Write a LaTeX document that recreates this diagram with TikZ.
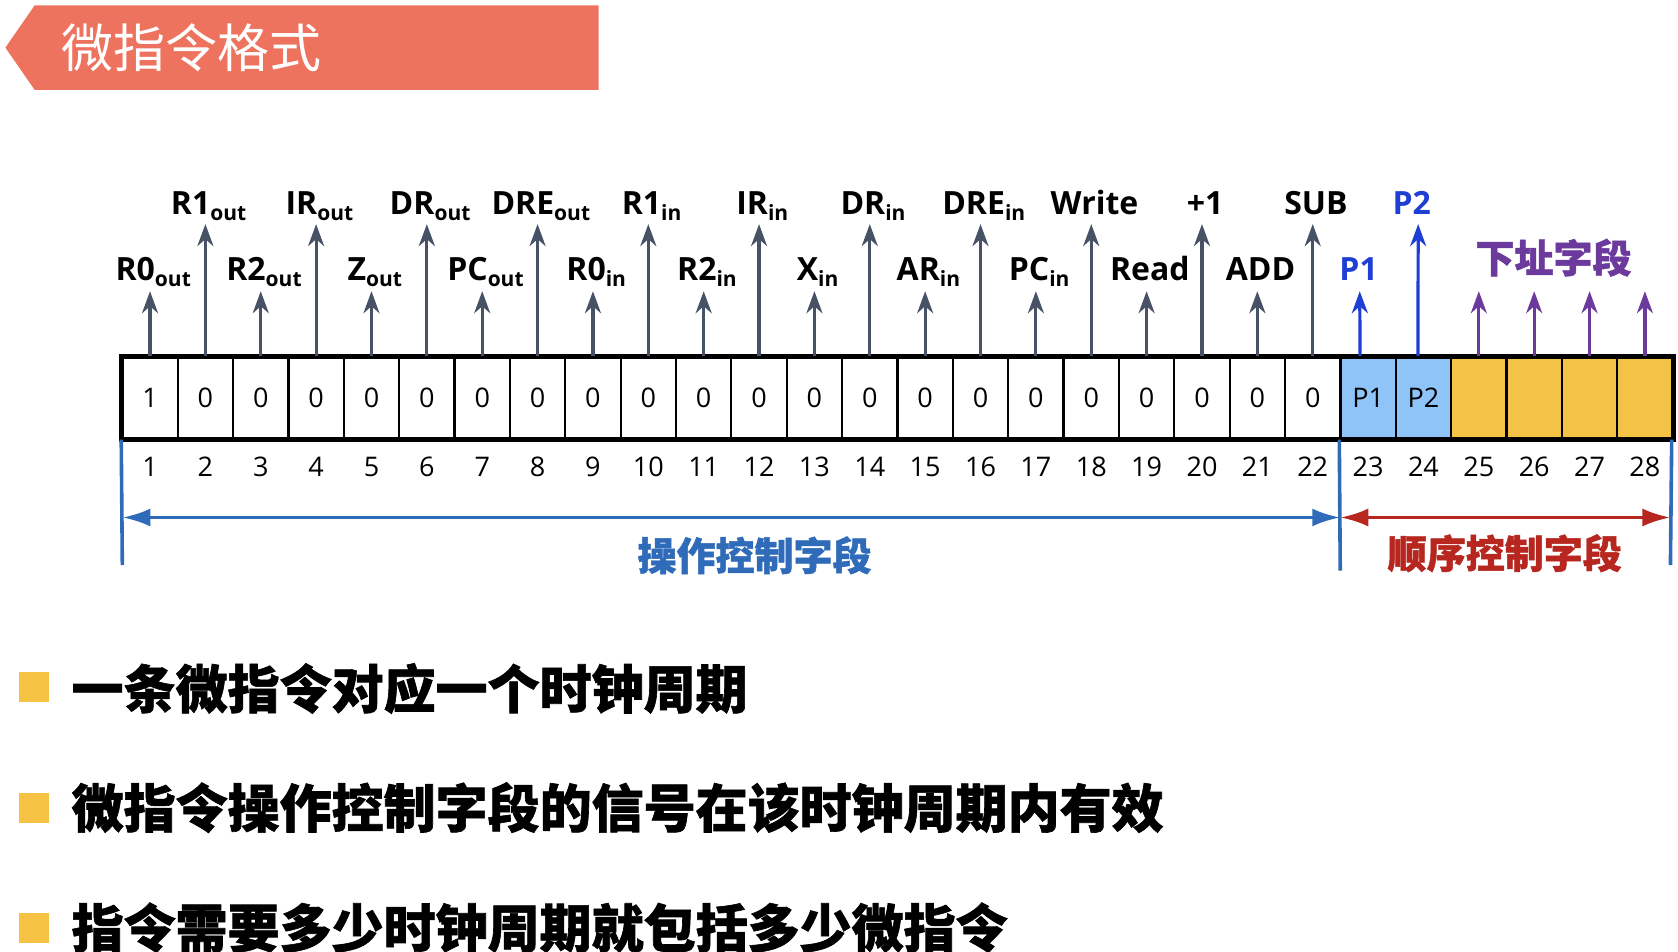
\documentclass[tikz,border=0pt]{standalone}
\usepackage{fontspec}
\setmainfont{Open Sans}
\newfontfamily\cjk{Noto Sans CJK SC}[BoldFeatures={FakeBold=1.2}]
\usetikzlibrary{arrows.meta}
\definecolor{slate}{HTML}{475266}
\definecolor{pblue}{HTML}{1E3ED4}
\definecolor{purp}{HTML}{6C3A9C}
\definecolor{addr}{HTML}{F4C244}
\definecolor{cellblue}{HTML}{8EC4F8}
\definecolor{bblue}{HTML}{2F6BB9}
\definecolor{bred}{HTML}{B7271F}
\definecolor{banner}{HTML}{EE735E}
\definecolor{bul}{HTML}{F6C244}
\newcommand\sbs[1]{\raisebox{-6.5pt}{\fontsize{21}{21}\selectfont #1}}
\tikzset{
  cell/.style={draw=black, line width=2.2pt, minimum width=55.37pt, minimum height=81.2pt, inner sep=0pt, font=\fontsize{27}{27}\selectfont},
  num/.style={inner sep=0pt, font=\fontsize{27}{27}\selectfont},
  lbl/.style={inner sep=0pt, anchor=base, font=\bfseries\fontsize{32}{32}\selectfont},
  arr/.style={line width=3.2pt, -{Stealth[length=22pt,width=16pt,inset=7pt]}},
  sig/.style={arr, draw=slate},
  psig/.style={arr, draw=pblue},
  asig/.style={arr, draw=purp},
  brk/.style={line width=3.6pt},
  dbl/.style={line width=3.6pt, {Latex[length=28pt,width=18pt]}-{Latex[length=28pt,width=18pt]}},
  bulsq/.style={fill=bul, minimum size=30pt, inner sep=0pt},
  bultxt/.style={anchor=west, inner sep=0pt, font=\cjk\bfseries\fontsize{52}{52}\selectfont},
  fieldlbl/.style={inner sep=0pt, font=\cjk\bfseries\fontsize{39}{39}\selectfont}
}
\begin{document}
\begin{tikzpicture}[x=1.0826pt,y=-1.0826pt]
\useasboundingbox (0,0) rectangle (1550,879);
% title banner
\fill[banner] (32,5) -- (553,5) -- (553,83) -- (32,83) -- (5,44) -- cycle;
\node[anchor=west, inner sep=0pt, text=white, font=\cjk\fontsize{52}{52}\selectfont] (title) at (57,44) {微指令格式};
% cells
\node[cell] (c1) at ({113+0.5*51.143},367.5) {1};
\foreach \i in {2,...,22}{
  \node[cell] (c\i) at ({113+(\i-0.5)*51.143},367.5) {0};
}
\node[cell, fill=cellblue] (c23) at ({113+22.5*51.143},367.5) {P1};
\node[cell, fill=cellblue] (c24) at ({113+23.5*51.143},367.5) {P2};
\foreach \i in {25,...,28}{
  \node[cell, fill=addr] (c\i) at ({113+(\i-0.5)*51.143},367.5) {};
}
\draw[line width=5pt] (c1.north west) rectangle (c28.south east);
% bit numbers
\foreach \i in {1,...,28}{
  \node[num] (n\i) at ({113+(\i-0.5)*51.143},431) {\i};
}
% short arrows (lower labels)
\foreach \i/\t in {1/{R0\sbs{out}},3/{R2\sbs{out}},5/{Z\sbs{out}},7/{PC\sbs{out}},9/{R0\sbs{in}},11/{R2\sbs{in}},13/{X\sbs{in}},15/{AR\sbs{in}},17/{PC\sbs{in}},19/{Read},21/{ADD}}{
  \coordinate (a\i) at ({113+(\i-0.5)*51.143},269);
  \draw[sig] (c\i.north) -- (a\i);
  \node[lbl] (l\i) at ({113+(\i-0.5)*51.143+3},259) {\t};
}
% long arrows (upper labels)
\foreach \i/\t in {2/{R1\sbs{out}},4/{IR\sbs{out}},6/{DR\sbs{out}},8/{DRE\sbs{out}},10/{R1\sbs{in}},12/{IR\sbs{in}},14/{DR\sbs{in}},16/{DRE\sbs{in}},18/{Write},20/{+1},22/{SUB}}{
  \coordinate (a\i) at ({113+(\i-0.5)*51.143},207);
  \draw[sig] (c\i.north) -- (a\i);
  \node[lbl] (l\i) at ({113+(\i-0.5)*51.143+3},198) {\t};
}
% P1 / P2
\coordinate (a23) at (1256,269);
\coordinate (a24) at (1310,207);
\draw[psig] ([xshift=-8pt]c23.north) -- (a23);
\draw[psig] ([xshift=-5.5pt]c24.north) -- (a24);
\node[lbl, text=pblue] (l23) at (1255,259) {P1};
\node[lbl, text=pblue] (l24) at (1304,198) {P2};
% next address field
\foreach \i in {25,...,28}{
  \coordinate (a\i) at ({113+(\i-0.5)*51.143},269);
  \draw[asig] (c\i.north) -- (a\i);
}
\node[fieldlbl, text=purp] (addrlbl) at (1435,238) {下址字段};
% brackets
\coordinate (bL) at (113,522);
\coordinate (bM) at (1238,527);
\coordinate (bR) at (1543,522);
\coordinate (hL) at (113,478);
\coordinate (hM) at (1238,478);
\coordinate (hR) at (1543,478);
\draw[brk, bblue] (c1.south west) -- (bL);
\draw[brk, bblue] (c23.south west) -- (bM);
\draw[brk, bblue] ([xshift=-2pt]c28.south east) -- (bR);
\draw[dbl, bblue] (hL) -- (hM);
\draw[dbl, bred] (hM) -- (hR);
\node[fieldlbl, text=bblue] (opf) at (697,513) {操作控制字段};
\node[fieldlbl, text=bred] (seqf) at (1390,511) {顺序控制字段};
% bullets
\node[bulsq] (b1) at (31,634.5) {};
\node[bulsq] (b2) at (31,746.5) {};
\node[bulsq] (b3) at (31,857) {};
\node[bultxt] (t1) at (66,636) {一条微指令对应一个时钟周期};
\node[bultxt] (t2) at (66,746) {微指令操作控制字段的信号在该时钟周期内有效};
\node[bultxt] (t3) at (66,857) {指令需要多少时钟周期就包括多少微指令};
\end{tikzpicture}
\end{document}
